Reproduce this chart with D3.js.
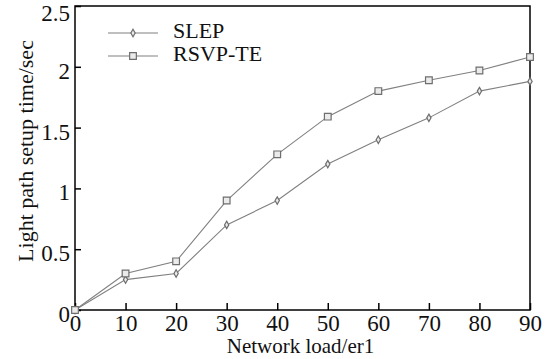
<!DOCTYPE html>
<html>
<head>
<meta charset="utf-8">
<script src="https://cdn.jsdelivr.net/npm/d3@7"></script>
<style>
  body { margin: 0; background: #fff; }
  svg { display: block; font-family: "Liberation Serif", "DejaVu Serif", serif; }
</style>
</head>
<body>
<svg id="chart" width="557" height="359"></svg>
<script>
// data
const loads = [0, 10, 20, 30, 40, 50, 60, 70, 80, 90];
const slep = [0, 0.25, 0.3, 0.7, 0.9, 1.2, 1.4, 1.58, 1.8, 1.88];
const rsvp = [0, 0.3, 0.4, 0.9, 1.28, 1.59, 1.8, 1.89, 1.97, 2.08];
const yTicks = [0, 0.5, 1, 1.5, 2, 2.5];
const xTicks = [0, 10, 20, 30, 40, 50, 60, 70, 80, 90];

const svg = d3.select("#chart");
const margin = { top: 6, right: 27, bottom: 49, left: 75 };
const width = +svg.attr("width") - margin.left - margin.right;
const height = +svg.attr("height") - margin.top - margin.bottom;

const g = svg.append("g").attr("transform", `translate(${margin.left},${margin.top})`);

const x = d3.scaleLinear().domain([0, 90]).range([0, width]);
const y = d3.scaleLinear().domain([0, 2.5]).range([height, 0]);

// frame
g.append("rect")
  .attr("width", width).attr("height", height)
  .attr("fill", "none").attr("stroke", "#000").attr("stroke-width", 1.5);

// eix X (ticks inward)
const xa = g.append("g")
  .attr("transform", `translate(0,${height})`)
  .call(d3.axisBottom(x).tickValues(xTicks).tickSize(-7).tickPadding(5).tickFormat(d3.format("d")));
xa.select(".domain").remove();
xa.selectAll("line").attr("stroke", "#000").attr("stroke-width", 1.5);
xa.selectAll("text").style("font-size", "23px").attr("fill", "#111").attr("font-family", "Liberation Serif");

// eix Y
const ya = g.append("g")
  .call(d3.axisLeft(y).tickValues(yTicks).tickSize(-6).tickPadding(5).tickFormat(d => d));
ya.select(".domain").remove();
ya.selectAll("line").attr("stroke", "#000").attr("stroke-width", 1.5);
ya.selectAll("text").style("font-size", "23px").attr("fill", "#111").attr("font-family", "Liberation Serif")
  .attr("dy", d => d === 2.5 ? "0.62em" : "0.5em");

// axis titles
svg.append("text")
  .attr("x", margin.left + width / 2 - 2).attr("y", 353)
  .attr("text-anchor", "middle").style("font-size", "21px").attr("fill", "#111")
  .text("Network load/er1");

svg.append("text")
  .attr("transform", `translate(33,151) rotate(-90)`)
  .attr("text-anchor", "middle").style("font-size", "22px").attr("fill", "#111")
  .text("Light path setup time/sec");

const lineCol = "#808080";
const line = d3.line().x((d, i) => x(loads[i])).y(d => y(d));

const series = [
  { name: "SLEP", values: slep, shape: d3.symbolDiamond, size: 16 },
  { name: "RSVP-TE", values: rsvp, shape: d3.symbolSquare, size: 45 }
];

series.forEach(s => {
  g.append("path")
    .datum(s.values)
    .attr("d", line)
    .attr("fill", "none")
    .attr("stroke", lineCol)
    .attr("stroke-width", 1.1);

  g.selectAll(null)
    .data(s.values)
    .enter()
    .append("path")
    .attr("transform", (d, i) => `translate(${x(loads[i])},${y(d)})`)
    .attr("d", d3.symbol().type(s.shape).size(s.size))
    .attr("fill", "#ebebeb")
    .attr("stroke", "#6e6e6e")
    .attr("stroke-width", 1.2);
});

// legend
const leg = g.append("g");
series.forEach((s, i) => {
  const ly = 27 + i * 23;
  leg.append("line")
    .attr("x1", 33).attr("x2", 83).attr("y1", ly).attr("y2", ly)
    .attr("stroke", lineCol).attr("stroke-width", 1.1);
  leg.append("path")
    .attr("transform", `translate(58,${ly})`)
    .attr("d", d3.symbol().type(s.shape).size(s.size))
    .attr("fill", "#ebebeb").attr("stroke", "#6e6e6e").attr("stroke-width", 1.2);
  leg.append("text")
    .attr("x", 98).attr("y", ly + 5)
    .style("font-size", "22px").attr("fill", "#111")
    .text(s.name);
});
</script>
</body>
</html>
